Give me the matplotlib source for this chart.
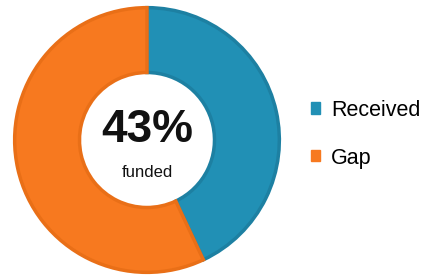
import matplotlib
matplotlib.use("Agg")
import matplotlib.pyplot as plt
from matplotlib.patches import Patch

labels = ["Received", "Gap"]
values = [43, 57]
colors = ["#2190b5", "#f7791f"]
edges = ["#1d80a2", "#e96f17"]
center_big = "43%"
center_small = "funded"

plt.rcParams["font.family"] = ["Liberation Sans", "DejaVu Sans"]

W, H = 432, 277
fig = plt.figure(figsize=(W / 100, H / 100), dpi=100)
cx, cy, r = 147, 137, 135
ax = fig.add_axes([(cx - r) / W, (cy - r) / H, 2 * r / W, 2 * r / H])

wedges, _ = ax.pie(values, colors=colors, startangle=90, counterclock=False,
                   radius=1.0, wedgeprops=dict(width=0.49, linewidth=2.5))
for w, ec in zip(wedges, edges):
    w.set_edgecolor(ec)
ax.set_aspect("equal")
ax.set_xlim(-1.02, 1.02)
ax.set_ylim(-1.02, 1.02)

ax.text(0, 0.075, center_big, ha="center", va="center", fontsize=33,
        fontweight="bold", color="#111111")
ax.text(0, -0.245, center_small, ha="center", va="center", fontsize=12,
        color="#111111")

handles = [Patch(facecolor=c, edgecolor=c) for c in colors]
fig.legend(handles, labels, loc="center left", bbox_to_anchor=(311 / W, 0.516),
           frameon=False, fontsize=15.5, handlelength=0.42, handleheight=0.42,
           handletextpad=0.5, labelspacing=1.25, borderpad=0, borderaxespad=0)

fig.savefig("out.png", dpi=100)
